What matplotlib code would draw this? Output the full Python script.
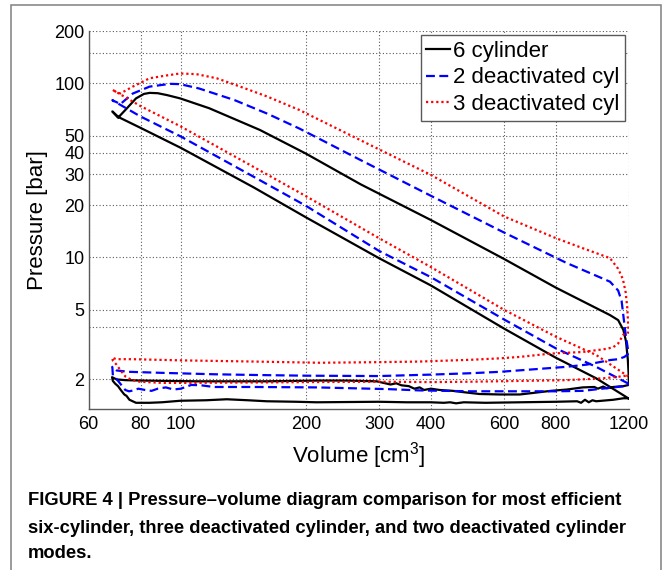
import matplotlib
matplotlib.use('Agg')
import matplotlib.pyplot as plt
from matplotlib.ticker import FixedLocator, FixedFormatter, NullLocator
from matplotlib.patches import Rectangle

# ---------------- data ----------------
series_labels = ['6 cylinder', '2 deactivated cyl', '3 deactivated cyl']

# 6 cylinder: compression -> combustion/expansion -> exhaust -> intake
v6 = [1195, 1000, 800, 600, 400, 300, 200, 150, 100, 80, 70.8,
      68.4, 70.6,
      73.5, 78, 81.5, 84.2, 88, 92.7, 99.6, 117, 155, 200, 271, 400, 600, 800,
      1080, 1130, 1163, 1180, 1192, 1198, 1199,
      1163, 1100, 1060, 1040, 1010, 990, 928, 850, 778, 700, 655, 587, 524, 480,
      452, 420, 400, 385, 376, 365, 354, 340, 330, 320, 296, 250, 216, 160, 110,
      92.7, 80, 73.5, 70, 68.3,
      68.6, 69.5, 70.6, 71.8, 73.1, 74, 75.2, 78, 84, 90, 99.7, 115, 129, 145,
      161, 190, 212, 300, 350, 399, 430, 445, 460, 480, 542, 655, 800, 900, 920,
      940, 960, 980, 1000, 1100, 1163, 1195]
p6 = [1.55, 2.02, 2.65, 3.9, 6.9, 9.9, 17.0, 25.2, 42.6, 55.5, 64,
      69, 63.5,
      70.3, 82, 87, 88.2, 87.8, 85.6, 82, 72, 54, 39.5, 26.3, 16.4, 9.8, 6.7,
      4.66, 4.36, 3.83, 3.3, 2.6, 2.1, 1.85,
      1.82, 1.80, 1.77, 1.81, 1.76, 1.80, 1.79, 1.74, 1.71, 1.66, 1.63, 1.63, 1.64, 1.68,
      1.71, 1.73, 1.76, 1.73, 1.79, 1.76, 1.82, 1.84, 1.89, 1.86, 1.94, 1.96, 1.96, 1.94, 1.94,
      1.95, 1.96, 1.97, 1.99, 2.05,
      1.95, 1.88, 1.82, 1.72, 1.63, 1.60, 1.52, 1.46, 1.46, 1.47, 1.50, 1.51, 1.53, 1.51,
      1.49, 1.48, 1.47, 1.48, 1.47, 1.47, 1.46, 1.47, 1.45, 1.47, 1.46, 1.47, 1.48, 1.49, 1.46,
      1.52, 1.47, 1.51, 1.49, 1.52, 1.55, 1.55]

# 2 deactivated cylinders
v2 = [1197, 1000, 800, 600, 400, 300, 200, 150, 100, 80, 68.4,
      70, 71.5, 76.6, 84.1, 94.2, 99.6, 110.6, 134.6, 161.5, 193, 270, 400, 600, 848,
      1080, 1130, 1152, 1166, 1180, 1192, 1198,
      1170, 1130, 1080, 950, 848, 700, 587, 500, 400, 300, 200, 150, 120, 90, 75, 70, 68.4,
      68.6, 70, 71, 72.5, 73.5, 75, 77, 79, 82, 85, 88, 92, 96, 100, 106, 112, 120, 150,
      212, 315, 376, 498, 655, 800, 928, 1080, 1170, 1199]
p2 = [1.88, 2.35, 3.0, 4.4, 7.7, 10.9, 19.8, 29, 49.5, 64.5, 80,
      78, 76, 87.4, 95.8, 99.4, 99, 93.5, 80.2, 67, 55, 36.4, 22.6, 13.9, 9.3,
      7.25, 6.45, 5.6, 4.4, 3.5, 3.0, 2.8,
      2.68, 2.6, 2.57, 2.42, 2.35, 2.27, 2.2, 2.16, 2.12, 2.08, 2.09, 2.11, 2.13, 2.17, 2.2, 2.24, 2.35,
      2.1, 2.0, 1.92, 1.8, 1.73, 1.70, 1.72, 1.76, 1.73, 1.71, 1.76, 1.79, 1.74, 1.76, 1.85, 1.84, 1.80, 1.80,
      1.79, 1.75, 1.72, 1.70, 1.70, 1.70, 1.71, 1.78, 1.82, 1.86]

# 3 deactivated cylinders
v3 = [1195, 1000, 800, 600, 400, 300, 200, 150, 100, 80, 68.4,
      70, 71.5, 76.6, 84.1, 92.7, 99.6, 109, 122, 139, 161.5, 193, 270, 400, 600, 800,
      928, 1080, 1130, 1160, 1178, 1188, 1194, 1197,
      1163, 1130, 1100, 1060, 928, 778, 655, 587, 500, 376, 300, 216, 150, 100, 76.6, 70, 68.3,
      68.6, 70, 71.5, 73.5, 76, 79.6, 90, 100, 150, 200, 300, 400, 500, 655, 848, 1040, 1150, 1197]
p3 = [2.07, 2.75, 3.5, 5.0, 8.8, 12.9, 22.5, 33, 56.5, 74, 92,
      89, 87.5, 95.8, 107, 111.2, 114, 113, 107, 95.8, 84, 70.3, 47.3, 29.8, 17.2, 12.9,
      11.3, 9.9, 8.6, 7.5, 6.3, 5.2, 4.2, 3.7,
      3.6, 3.2, 3.05, 2.98, 2.86, 2.8, 2.68, 2.63, 2.58, 2.52, 2.5, 2.48, 2.52, 2.56, 2.6, 2.6, 2.65,
      2.55, 2.42, 2.25, 2.07, 1.98, 1.93, 1.90, 1.90, 1.91, 1.92, 1.93, 1.92, 1.93, 1.95, 1.97, 2.02, 2.07, 2.1]

x_ticks = [60, 80, 100, 200, 300, 400, 600, 800, 1200]
x_ticklabels = ['60', '80', '100', '200', '300', '400', '600', '800', '1200']
y_ticks = [2, 4, 5, 10, 20, 30, 40, 50, 100, 150, 200]
y_ticklabels = ['2', '', '5', '10', '20', '30', '40', '50', '100', '', '200']

caption_lines = [
    'FIGURE 4 | Pressure\u2013volume diagram comparison for most efficient',
    'six-cylinder, three deactivated cylinder, and two deactivated cylinder',
    'modes.',
]

# ---------------- styling ----------------
plt.rcParams['font.family'] = ['Liberation Sans', 'DejaVu Sans']
plt.rcParams['mathtext.fontset'] = 'custom'
plt.rcParams['mathtext.rm'] = 'Liberation Sans'
plt.rcParams['mathtext.it'] = 'Liberation Sans:italic'

W, H = 667, 570
fig = plt.figure(figsize=(W / 100, H / 100), dpi=100)

# outer gray frame (left/top/right visible, bottom runs off the image)
fig.add_artist(Rectangle((11 / W, -0.3), (660.7 - 11) / W, 1.3 - 5 / H,
                         transform=fig.transFigure, fill=False,
                         edgecolor='0.5', lw=1.1))

ax = fig.add_axes([88.7 / W, 1 - 409 / H, (629 - 88.7) / W, (409 - 31) / H])
ax.set_xscale('log')
ax.set_yscale('log')

lw = 1.6
ax.plot(v6, p6, color='black', lw=lw, solid_joinstyle='round', label=series_labels[0])
ax.plot(v2, p2, color='#0000ff', lw=lw, linestyle=(0, (4, 2)), dash_capstyle='butt',
        label=series_labels[1])
ax.plot(v3, p3, color='#ff0000', lw=lw, linestyle=(0, (1, 1.3)), dash_capstyle='butt',
        label=series_labels[2])

ax.set_xlim(60, 1200)
ax.set_ylim(1.345, 200)
ax.xaxis.set_major_locator(FixedLocator(x_ticks))
ax.xaxis.set_major_formatter(FixedFormatter(x_ticklabels))
ax.xaxis.set_minor_locator(NullLocator())
ax.yaxis.set_major_locator(FixedLocator(y_ticks))
ax.yaxis.set_major_formatter(FixedFormatter(y_ticklabels))
ax.yaxis.set_minor_locator(NullLocator())

ax.grid(True, which='major', linestyle=(0, (1, 2)), color='0.35', lw=0.8)
for s in ['top', 'right']:
    ax.spines[s].set_visible(False)
for s in ['left', 'bottom']:
    ax.spines[s].set_color('0.35')
    ax.spines[s].set_linewidth(1.0)
ax.tick_params(axis='both', length=0, labelsize=13, colors='black')
ax.tick_params(axis='x', pad=5)
ax.tick_params(axis='y', pad=3)

ax.set_xlabel('Volume [cm$^3$]', fontsize=16)
ax.set_ylabel('Pressure [bar]', fontsize=16)
ax.xaxis.set_label_coords(0.5, (409 - 440) / 378)
ax.xaxis.label.set_va('top')
ax.yaxis.set_label_coords((37 - 88.7) / 540.3, 0.5)
ax.yaxis.label.set_va('center')
ax.yaxis.label.set_ha('center')

leg = ax.legend(loc='upper right', bbox_to_anchor=(625 / W, 1 - 35 / H),
                bbox_transform=fig.transFigure, borderaxespad=0, fontsize=16,
                handlelength=1.05, handletextpad=0.15, labelspacing=0.26,
                borderpad=0.25, fancybox=False, framealpha=1)
leg.get_frame().set_edgecolor('0.35')
leg.get_frame().set_linewidth(1.0)

# caption
baselines = [505, 533, 558]
texts = []
for line, yb in zip(caption_lines, baselines):
    texts.append(fig.text(28 / W, 1 - yb / H, line, fontsize=12.5, fontweight='bold',
                          va='baseline', ha='left', color='black'))
renderer = fig.canvas.get_renderer()
w0 = texts[0].get_window_extent(renderer).width
fs = 12.5 * 595 / w0
for t in texts:
    t.set_fontsize(fs)

fig.savefig('out.png', dpi=100)
